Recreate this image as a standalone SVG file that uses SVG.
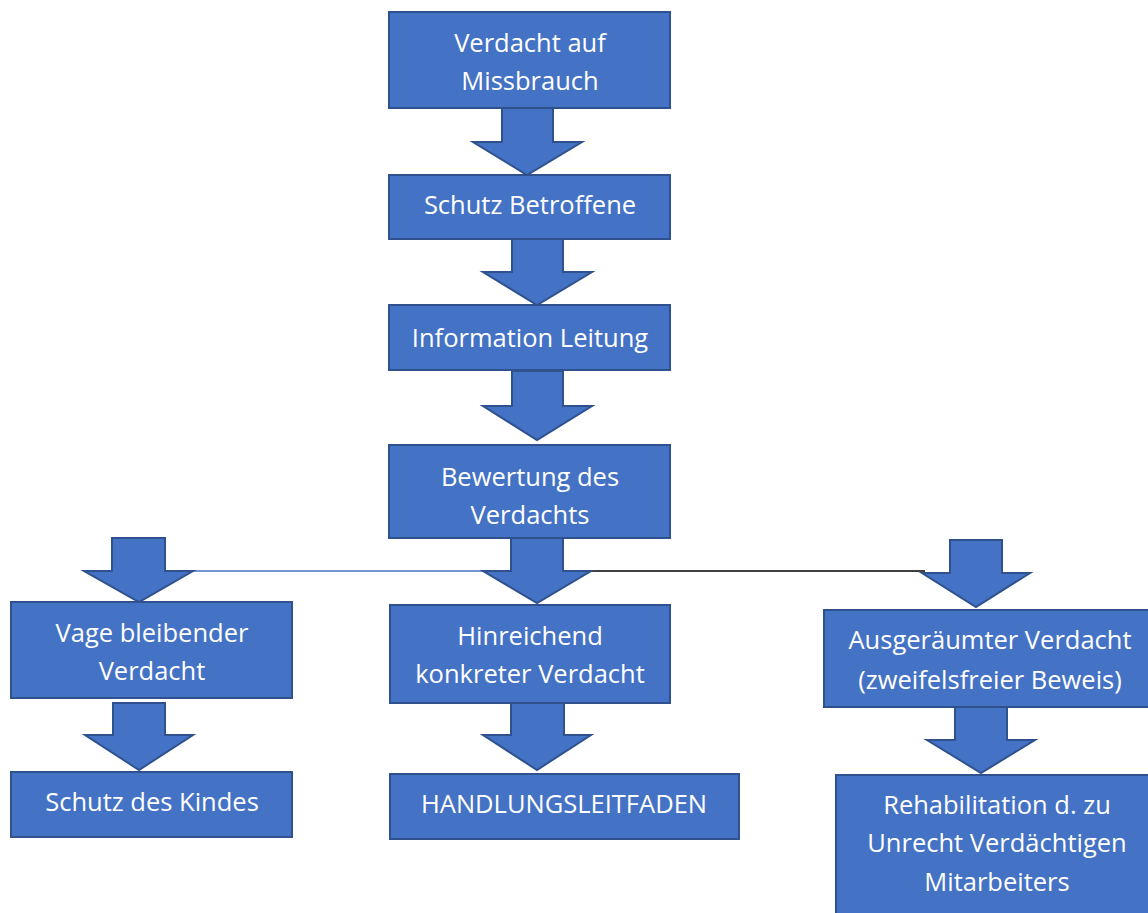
<svg xmlns="http://www.w3.org/2000/svg" width="1148" height="913" viewBox="0 0 1148 913">
<style>
.box{fill:#4472C4;stroke:#2F528F;stroke-width:2}
.arr{fill:#4472C4;stroke:#2F528F;stroke-width:2;stroke-linejoin:miter}
text{font-family:"Open Sans","Noto Sans",sans-serif;font-size:25.5px;fill:#ffffff;text-anchor:middle}
</style>
<rect width="1148" height="913" fill="#ffffff"/>
<g id="connectors">
<line x1="190" y1="571" x2="486" y2="571" stroke="#4472C4" stroke-width="1.5"/>
<line x1="588" y1="571" x2="925" y2="571" stroke="#000000" stroke-width="1.5"/>
<polygon class="arr" points="502,108 553,108 553,142 582,142 527,175 473,142 502,142"/>
<polygon class="arr" points="512,239 563,239 563,272 592,272 537,305 483,272 512,272"/>
<polygon class="arr" points="512,371 563,371 563,406 592,406 537,440 483,406 512,406"/>
<polygon class="arr" points="112,538 165,538 165,571 193,571 139,602 84,571 112,571"/>
<polygon class="arr" points="511,538 563,538 563,571 591,571 537,603 483,571 511,571"/>
<polygon class="arr" points="950,540 1002,540 1002,573 1030,573 976,607 922,573 950,573"/>
<polygon class="arr" points="113,703 165,703 165,735 193,735 139,770 85,735 113,735"/>
<polygon class="arr" points="511,703 564,703 564,735 591,735 537,770 483,735 511,735"/>
<polygon class="arr" points="955,707 1007,707 1007,740 1035,740 981,773 927,740 955,740"/>
</g>
<g id="n1"><rect class="box" x="389" y="12" width="281" height="96"/><text x="530" y="52">Verdacht auf</text><text x="530" y="90">Missbrauch</text></g>
<g id="n2"><rect class="box" x="389" y="175" width="281" height="64"/><text x="530" y="214">Schutz Betroffene</text></g>
<g id="n3"><rect class="box" x="389" y="305" width="281" height="65"/><text x="530" y="347">Information Leitung</text></g>
<g id="n4"><rect class="box" x="389" y="445" width="281" height="93"/><text x="530" y="486">Bewertung des</text><text x="530" y="524">Verdachts</text></g>
<g id="n5"><rect class="box" x="11" y="602" width="281" height="96"/><text x="152" y="642">Vage bleibender</text><text x="152" y="680">Verdacht</text></g>
<g id="n6"><rect class="box" x="390" y="605" width="280" height="98"/><text x="530" y="645">Hinreichend</text><text x="530" y="683">konkreter Verdacht</text></g>
<g id="n7"><rect class="box" x="824" y="610" width="330" height="97"/><text x="990" y="649">Ausgeräumter Verdacht</text><text x="990" y="689">(zweifelsfreier Beweis)</text></g>
<g id="n8"><rect class="box" x="11" y="772" width="281" height="65"/><text x="152" y="811">Schutz des Kindes</text></g>
<g id="n9"><rect class="box" x="390" y="774" width="349" height="65"/><text x="564" y="813">HANDLUNGSLEITFADEN</text></g>
<g id="n10"><rect class="box" x="836" y="775" width="320" height="145"/><text x="997" y="814">Rehabilitation d. zu</text><text x="997" y="852">Unrecht Verdächtigen</text><text x="997" y="891">Mitarbeiters</text></g>
</svg>
